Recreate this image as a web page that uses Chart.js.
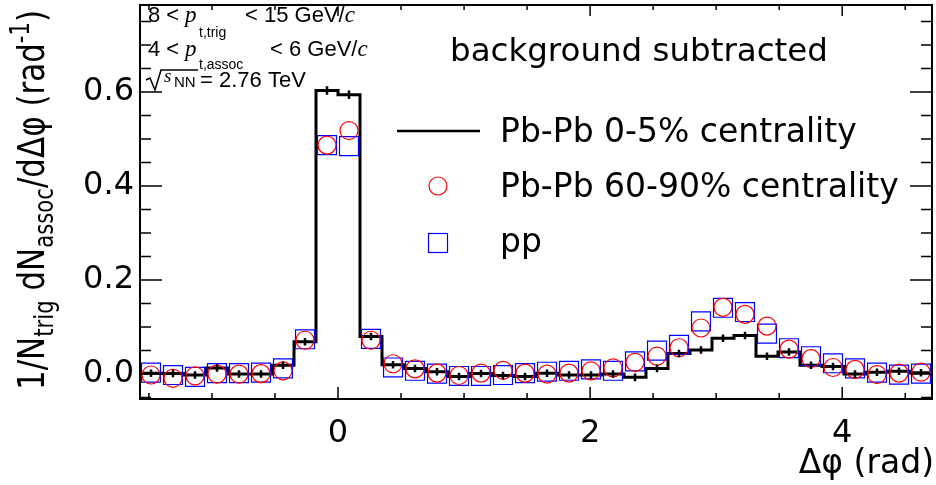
<!DOCTYPE html>
<html>
<head>
<meta charset="utf-8">
<script src="https://cdn.jsdelivr.net/npm/chart.js@4/dist/chart.umd.min.js"></script>
<style>
  html, body { margin: 0; padding: 0; background: #fff; }
  #wrap { width: 936px; height: 485px; }
</style>
</head>
<body>
<div id="wrap"><canvas id="chart" width="936" height="485"></canvas></div>
<script>
// delta-phi range: 36 bins from -pi/2 to 3pi/2
var phiMin = -Math.PI / 2;
var phiMax = 3 * Math.PI / 2;
var nBins = 36;

// Pb-Pb 0-5% (black histogram)
var central = [0.002, 0.001, -0.002, 0.013, 0.000, 0.000, 0.019, 0.069, 0.603, 0.594,
               0.080, 0.020, 0.012, 0.005, -0.005, 0.001, -0.003, -0.005, 0.002, -0.002,
               -0.002, 0.000, -0.007, 0.012, 0.044, 0.051, 0.076, 0.082, 0.038, 0.047,
               0.019, 0.016, 0.000, 0.004, 0.006, 0.003];
var centralErr = [0.008, 0.008, 0.008, 0.008, 0.008, 0.008, 0.008, 0.008, 0.009, 0.009,
                  0.008, 0.008, 0.008, 0.008, 0.008, 0.008, 0.008, 0.008, 0.008, 0.008,
                  0.008, 0.008, 0.008, 0.008, 0.008, 0.008, 0.008, 0.008, 0.008, 0.008,
                  0.008, 0.008, 0.008, 0.008, 0.008, 0.008];
// Pb-Pb 60-90% (red circles)
var peripheral = [-0.002, -0.009, -0.004, 0.000, 0.000, 0.001, 0.007, 0.072, 0.487, 0.518,
                  0.072, 0.022, 0.011, 0.002, -0.003, 0.002, 0.008, 0.002, 0.000, 0.002,
                  0.007, 0.013, 0.025, 0.038, 0.056, 0.098, 0.142, 0.127, 0.102, 0.053,
                  0.033, 0.014, 0.010, -0.001, 0.002, 0.004];
// pp (blue squares)
var ppValues = [0.003, -0.002, -0.006, 0.002, 0.002, 0.003, 0.012, 0.074, 0.487, 0.485,
                0.075, 0.014, 0.007, 0.001, -0.004, -0.004, -0.002, 0.002, 0.005, 0.007,
                0.010, 0.007, 0.027, 0.050, 0.062, 0.112, 0.141, 0.132, 0.086, 0.055,
                0.038, 0.023, 0.012, 0.003, -0.001, 0.001];

var yTicks = [0, 0.2, 0.4, 0.6];
var xTicks = [0, 2, 4];
var legendLabels = ["Pb-Pb 0-5% centrality", "Pb-Pb 60-90% centrality", "pp"];

var binWidth = (phiMax - phiMin) / nBins;
var FONT = "'DejaVu Sans', sans-serif";

var histPoints = central.map(function(v, i) {
  return {x: phiMin + i * binWidth, y: v};
});
histPoints.push({x: phiMax, y: central[nBins - 1]});

function toPoints(vals) {
  return vals.map(function(v, i) {
    return {x: phiMin + (i + 0.5) * binWidth, y: v};
  });
}

// draws a run of [text, font, dy] pieces, returns end x
function drawRich(ctx, parts, x, y) {
  parts.forEach(function(p) {
    ctx.font = p[1];
    ctx.fillText(p[0], x, y + (p[2] || 0));
    x += ctx.measureText(p[0]).width;
  });
  return x;
}
function richWidth(ctx, parts) {
  var w = 0;
  parts.forEach(function(p) { ctx.font = p[1]; w += ctx.measureText(p[0]).width; });
  return w;
}

function noPadding(scale) {
  scale.paddingTop = 0;
  scale.paddingBottom = 0;
  scale.paddingLeft = 0;
  scale.paddingRight = 0;
}

var rootStyle = {
  id: 'rootStyle',
  afterDatasetsDraw: function(chart) {
    var ctx = chart.ctx, a = chart.chartArea;
    var xs = chart.scales.x, ys = chart.scales.y;
    ctx.save();

    // error bars on the central histogram
    ctx.strokeStyle = '#000';
    ctx.lineWidth = 2.5;
    ctx.beginPath();
    central.forEach(function(v, i) {
      var px = xs.getPixelForValue(phiMin + (i + 0.5) * binWidth);
      ctx.moveTo(px, ys.getPixelForValue(v - centralErr[i]));
      ctx.lineTo(px, ys.getPixelForValue(v + centralErr[i]));
    });
    ctx.stroke();

    // frame
    ctx.lineWidth = 2;
    ctx.strokeRect(a.left, a.top, a.right - a.left, a.bottom - a.top);

    // inner ticks
    ctx.lineWidth = 1.5;
    ctx.beginPath();
    var k, v, p, major;
    for (k = Math.ceil(ys.min / 0.05); k <= Math.floor(ys.max / 0.05); k++) {
      v = k * 0.05;
      p = ys.getPixelForValue(v);
      major = (k % 4 === 0);
      ctx.moveTo(a.left, p); ctx.lineTo(a.left + (major ? 22 : 11), p);
      ctx.moveTo(a.right, p); ctx.lineTo(a.right - (major ? 22 : 11), p);
    }
    for (k = Math.ceil(xs.min / 0.5); k <= Math.floor(xs.max / 0.5); k++) {
      v = k * 0.5;
      p = xs.getPixelForValue(v);
      major = (k % 4 === 0);
      ctx.moveTo(p, a.bottom); ctx.lineTo(p, a.bottom - (major ? 12 : 6));
      ctx.moveTo(p, a.top); ctx.lineTo(p, a.top + (major ? 11 : 5));
    }
    ctx.stroke();
    ctx.restore();
  },
  afterDraw: function(chart) {
    var ctx = chart.ctx;
    var ds = chart.data.datasets;
    ctx.save();
    ctx.fillStyle = '#000';
    ctx.textBaseline = 'alphabetic';
    ctx.textAlign = 'left';

    // axis titles
    ctx.font = '33px ' + FONT;
    ctx.textAlign = 'right';
    ctx.fillText('\u0394\u03c6 (rad)', 934, 473);
    ctx.textAlign = 'left';

    var main = '38px ' + FONT, small = '26px ' + FONT;
    var yTitle = [['1/N', main], ['trig', small, 9], [' dN', main], ['assoc', small, 9],
                  ['/d\u0394\u03c6 (rad', main], ['-1', small, -15], [')', main]];
    var w = richWidth(ctx, yTitle);
    ctx.save();
    ctx.translate(44, 390);
    ctx.rotate(-Math.PI / 2);
    ctx.scale(380 / w, 1);
    drawRich(ctx, yTitle, 0, 0);
    ctx.restore();

    // kinematic labels
    var sans = "22px 'Liberation Sans', Arial, sans-serif";
    var sub = "14px 'Liberation Sans', Arial, sans-serif";
    var ital = "italic 23px 'Liberation Serif', serif";
    ctx.font = sans;
    ctx.fillText('8 <', 148, 22);
    ctx.fillText('4 <', 148, 56);
    ctx.font = ital;
    ctx.fillText('p', 185, 22);
    ctx.fillText('p', 185, 56);
    ctx.font = sub;
    ctx.fillText('t,trig', 199, 37);
    ctx.fillText('t,assoc', 199, 69);
    drawRich(ctx, [['< 15 GeV/', sans], ['c', ital]], 245, 22);
    drawRich(ctx, [['< 6 GeV/', sans], ['c', ital]], 270, 56);

    ctx.lineWidth = 1.5;
    ctx.strokeStyle = '#000';
    ctx.beginPath();
    ctx.moveTo(146, 80); ctx.lineTo(150, 78); ctx.lineTo(155, 90); ctx.lineTo(161, 70); ctx.lineTo(198, 70);
    ctx.stroke();
    ctx.font = "italic 19px 'Liberation Serif', serif";
    ctx.fillText('s', 164, 82);
    ctx.font = "15px 'Liberation Sans', Arial, sans-serif";
    ctx.fillText('NN', 174, 87);
    ctx.font = sans;
    ctx.fillText('= 2.76 TeV', 200, 87);

    // heading
    ctx.font = '32.5px ' + FONT;
    ctx.fillText('background subtracted', 450, 61);

    // legend
    ctx.lineWidth = 2.5;
    ctx.strokeStyle = ds[0].borderColor;
    ctx.beginPath(); ctx.moveTo(397, 131); ctx.lineTo(480, 131); ctx.stroke();
    ctx.lineWidth = 1.2;
    ctx.strokeStyle = ds[1].borderColor;
    ctx.beginPath(); ctx.arc(438, 186, 9, 0, Math.PI * 2); ctx.stroke();
    ctx.strokeStyle = ds[2].borderColor;
    ctx.strokeRect(428.5, 233.5, 19, 19);
    ctx.font = '33px ' + FONT;
    ctx.fillText(legendLabels[0], 500, 142);
    ctx.fillText(legendLabels[1], 500, 197);
    ctx.fillText(legendLabels[2], 500, 252);
    ctx.restore();
  }
};

var ctx = document.getElementById('chart').getContext('2d');
new Chart(ctx, {
  type: 'scatter',
  data: {
    datasets: [
      {
        label: legendLabels[0],
        data: histPoints,
        showLine: true,
        stepped: true,
        borderColor: '#000',
        borderWidth: 3,
        pointRadius: 0,
        fill: false,
        order: 3
      },
      {
        label: legendLabels[1],
        data: toPoints(peripheral),
        pointStyle: 'circle',
        pointRadius: 9,
        borderColor: '#ff0000',
        backgroundColor: 'rgba(0,0,0,0)',
        pointBorderWidth: 1.2,
        order: 1
      },
      {
        label: legendLabels[2],
        data: toPoints(ppValues),
        pointStyle: 'rect',
        pointRadius: 13.4,
        borderColor: '#0000ff',
        backgroundColor: 'rgba(0,0,0,0)',
        pointBorderWidth: 1.2,
        order: 2
      }
    ]
  },
  options: {
    responsive: false,
    animation: false,
    devicePixelRatio: 1,
    layout: { autoPadding: false, padding: { left: 0, right: 4, top: 5, bottom: 0 } },
    plugins: { legend: { display: false }, tooltip: { enabled: false } },
    scales: {
      x: {
        type: 'linear',
        min: phiMin,
        max: phiMax,
        grid: { display: false, drawTicks: false },
        border: { display: false },
        afterFit: function(scale) { scale.height = 86; noPadding(scale); },
        afterBuildTicks: function(scale) {
          scale.ticks = xTicks.map(function(v) { return {value: v}; });
        },
        ticks: {
          padding: 15,
          color: '#000',
          font: { family: FONT, size: 32 },
          maxRotation: 0,
          callback: function(v) { return String(v); }
        }
      },
      y: {
        min: -0.053,
        max: 0.785,
        grid: { display: false, drawTicks: false },
        border: { display: false },
        afterFit: function(scale) { scale.width = 140; noPadding(scale); },
        afterBuildTicks: function(scale) {
          scale.ticks = yTicks.map(function(v) { return {value: v}; });
        },
        ticks: {
          padding: 6,
          color: '#000',
          font: { family: FONT, size: 32 },
          callback: function(v) { return v.toFixed(1); }
        }
      }
    }
  },
  plugins: [rootStyle]
});
</script>
</body>
</html>
